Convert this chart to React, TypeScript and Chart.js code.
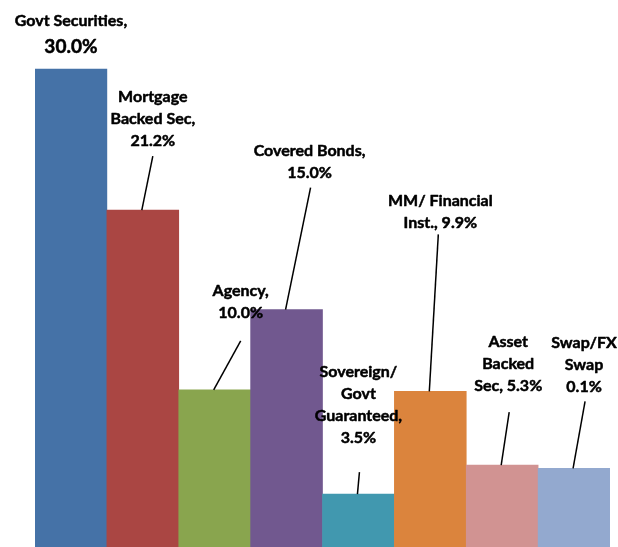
import React, { useEffect, useRef } from "react";
import { Chart, registerables } from "chart.js";

Chart.register(...registerables);

const categories = [
  "Govt Securities",
  "Mortgage Backed Sec",
  "Agency",
  "Covered Bonds",
  "Sovereign/ Govt Guaranteed",
  "MM/ Financial Inst.",
  "Asset Backed Sec",
  "Swap/FX Swap",
];

// bar heights (percent)
const values = [30.0, 21.2, 10.0, 15.0, 3.5, 9.9, 5.3, 5.1];

// data label texts, as printed
const labelLines = [
  ["Govt Securities,", "30.0%"],
  ["Mortgage", "Backed Sec,", "21.2%"],
  ["Agency,", "10.0%"],
  ["Covered Bonds,", "15.0%"],
  ["Sovereign/", "Govt", "Guaranteed,", "3.5%"],
  ["MM/ Financial", "Inst., 9.9%"],
  ["Asset", "Backed", "Sec, 5.3%"],
  ["Swap/FX", "Swap", "0.1%"],
];

const colors = [
  "#4572A7",
  "#AA4643",
  "#89A54E",
  "#71588F",
  "#4198AF",
  "#DB843D",
  "#D19392",
  "#93A9CF",
];

// label placement relative to bar top-centre: [dx, dy of last text line centre]
const labelOffsets = [
  [0, -22],
  [10, -69],
  [26, -77],
  [23, -137],
  [0, -56],
  [10, -169],
  [6, -79],
  [10, -82],
];
// leader line top end relative to bar top-centre (null = no line)
const leaderTops: (number[] | null)[] = [
  null,
  [10, -54],
  [26, -49],
  [24, -122],
  [1, -22],
  [8, -157],
  [7, -53],
  [11, -67],
];

const FONT = "Lato, 'Noto Sans', sans-serif";

const labelPlugin = {
  id: "leaderLabels",
  afterDatasetsDraw(chart: any) {
    const ctx = chart.ctx;
    const meta = chart.getDatasetMeta(0);
    ctx.save();
    meta.data.forEach((el: any, i: number) => {
      const bx = el.x;
      const by = el.y;
      const lt = leaderTops[i];
      if (lt) {
        ctx.beginPath();
        ctx.strokeStyle = "#000";
        ctx.lineWidth = 1.5;
        ctx.moveTo(bx - 1, by);
        ctx.lineTo(bx + lt[0], by + lt[1]);
        ctx.stroke();
      }
      const lines = labelLines[i];
      const [dx, dy] = labelOffsets[i];
      const cx = bx + dx;
      const lastY = by + dy;
      const lh = i === 0 ? 26 : 22;
      ctx.fillStyle = "#000";
      ctx.strokeStyle = "#000";
      ctx.lineWidth = 0.5;
      ctx.lineJoin = "round";
      ctx.textAlign = "center";
      ctx.textBaseline = "middle";
      lines.forEach((t, k) => {
        const y = lastY - (lines.length - 1 - k) * lh;
        const big = i === 0 && k === lines.length - 1;
        ctx.font = `bold ${big ? 19 : 16}px ${FONT}`;
        ctx.fillText(t, cx, y);
        ctx.strokeText(t, cx, y);
      });
    });
    ctx.restore();
  },
};

export default function App() {
  const ref = useRef<HTMLCanvasElement>(null);
  useEffect(() => {
    document.body.style.margin = "0";
    document.body.style.overflow = "hidden";
    const chart = new Chart(ref.current!, {
      type: "bar",
      data: {
        labels: categories,
        datasets: [
          {
            data: values,
            backgroundColor: colors,
            borderWidth: 0,
            barPercentage: 1,
            categoryPercentage: 1,
          },
        ],
      },
      options: {
        animation: false,
        responsive: false,
        layout: { padding: { left: 35, right: 8, top: 0, bottom: 0 } },
        scales: {
          x: { display: false },
          y: { display: false, min: 0.2, max: 34.3 },
        },
        plugins: { legend: { display: false }, tooltip: { enabled: false } },
      },
      plugins: [labelPlugin],
    });
    return () => chart.destroy();
  }, []);
  return (
    <div style={{ width: 618, height: 547, background: "#fff" }}>
      <canvas ref={ref} width={618} height={547} />
    </div>
  );
}
